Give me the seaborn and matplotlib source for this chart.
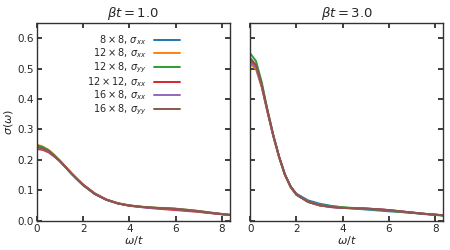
import matplotlib
matplotlib.use("Agg")
import matplotlib.pyplot as plt
import seaborn as sns
import pandas as pd

# ---------------- data ----------------
omega = [0, 0.25, 0.5, 0.75, 1.0, 1.25, 1.5, 1.75, 2.0, 2.5, 3.0, 3.5,
         4.0, 4.5, 5.0, 5.5, 6.0, 6.5, 7.0, 7.5, 8.0, 8.5]

series_labels = [r"$8\times8,\,\sigma_{xx}$", r"$12\times8,\,\sigma_{xx}$",
                 r"$12\times8,\,\sigma_{yy}$", r"$12\times12,\,\sigma_{xx}$",
                 r"$16\times8,\,\sigma_{xx}$", r"$16\times8,\,\sigma_{yy}$"]

panel_titles = [r"$\beta t = 1.0$", r"$\beta t = 3.0$"]

# beta t = 1.0
b1_8x8_xx = [0.246, 0.241, 0.231, 0.215, 0.196, 0.175, 0.154, 0.135, 0.117, 0.088, 0.069, 0.057,
             0.050, 0.046, 0.043, 0.041, 0.039, 0.036, 0.032, 0.027, 0.022, 0.018]
b1_12x8_xx = [0.250, 0.244, 0.233, 0.217, 0.198, 0.177, 0.156, 0.137, 0.119, 0.090, 0.070, 0.058,
              0.051, 0.046, 0.043, 0.042, 0.040, 0.036, 0.032, 0.027, 0.022, 0.018]
b1_12x8_yy = [0.248, 0.242, 0.232, 0.215, 0.196, 0.175, 0.154, 0.135, 0.117, 0.088, 0.069, 0.057,
              0.050, 0.046, 0.043, 0.041, 0.039, 0.035, 0.031, 0.026, 0.022, 0.018]
b1_12x12_xx = [0.236, 0.233, 0.225, 0.211, 0.195, 0.176, 0.156, 0.137, 0.119, 0.090, 0.070, 0.057,
               0.049, 0.045, 0.041, 0.038, 0.035, 0.032, 0.029, 0.025, 0.021, 0.018]
b1_16x8_xx = [0.240, 0.236, 0.227, 0.212, 0.195, 0.175, 0.155, 0.136, 0.118, 0.089, 0.069, 0.057,
              0.050, 0.045, 0.042, 0.040, 0.037, 0.034, 0.030, 0.026, 0.022, 0.018]
b1_16x8_yy = [0.243, 0.238, 0.229, 0.213, 0.196, 0.175, 0.155, 0.136, 0.117, 0.088, 0.069, 0.057,
              0.050, 0.046, 0.043, 0.041, 0.039, 0.035, 0.031, 0.026, 0.022, 0.018]

# beta t = 3.0
b3_8x8_xx = [0.530, 0.508, 0.443, 0.358, 0.278, 0.209, 0.152, 0.113, 0.089, 0.067, 0.056, 0.049,
             0.044, 0.040, 0.037, 0.034, 0.031, 0.029, 0.026, 0.023, 0.020, 0.017]
b3_12x8_xx = [0.515, 0.498, 0.438, 0.356, 0.278, 0.209, 0.151, 0.111, 0.086, 0.063, 0.052, 0.046,
              0.043, 0.041, 0.039, 0.037, 0.034, 0.030, 0.027, 0.023, 0.020, 0.017]
b3_12x8_yy = [0.550, 0.525, 0.455, 0.364, 0.281, 0.210, 0.151, 0.110, 0.085, 0.063, 0.052, 0.047,
              0.044, 0.042, 0.040, 0.037, 0.033, 0.029, 0.026, 0.022, 0.019, 0.016]
b3_12x12_xx = [0.525, 0.506, 0.443, 0.360, 0.280, 0.211, 0.153, 0.112, 0.086, 0.062, 0.050, 0.045,
               0.042, 0.041, 0.040, 0.038, 0.035, 0.031, 0.027, 0.023, 0.020, 0.017]
b3_16x8_xx = [0.522, 0.503, 0.442, 0.359, 0.280, 0.210, 0.152, 0.112, 0.086, 0.062, 0.051, 0.045,
              0.042, 0.041, 0.040, 0.038, 0.035, 0.031, 0.027, 0.023, 0.020, 0.017]
b3_16x8_yy = [0.535, 0.512, 0.447, 0.361, 0.280, 0.210, 0.152, 0.112, 0.086, 0.062, 0.051, 0.045,
              0.042, 0.041, 0.040, 0.038, 0.035, 0.031, 0.027, 0.023, 0.020, 0.017]

panels = [
    [b1_8x8_xx, b1_12x8_xx, b1_12x8_yy, b1_12x12_xx, b1_16x8_xx, b1_16x8_yy],
    [b3_8x8_xx, b3_12x8_xx, b3_12x8_yy, b3_12x12_xx, b3_16x8_xx, b3_16x8_yy],
]

# ---------------- style ----------------
sns.set_theme(style="ticks")
plt.rcParams.update({
    "font.family": ["DejaVu Sans"],
    "mathtext.fontset": "dejavusans",
    "xtick.direction": "in",
    "ytick.direction": "in",
    "xtick.top": True,
    "ytick.right": True,
    "xtick.labelsize": 7.5,
    "ytick.labelsize": 7.5,
    "axes.edgecolor": "#333333",
    "axes.linewidth": 1.0,
    "xtick.major.size": 3.5,
    "ytick.major.size": 3.5,
    "xtick.major.pad": 2,
    "ytick.major.pad": 2,
})

palette = sns.color_palette("tab10", 6)

fig = plt.figure(figsize=(4.5, 2.5), dpi=100)
ax1 = fig.add_axes([0.082, 0.117, 0.429, 0.791])
ax2 = fig.add_axes([0.556, 0.117, 0.429, 0.791], sharey=ax1)
axes = [ax1, ax2]

for ax, title, data in zip(axes, panel_titles, panels):
    frames = []
    for lab, ys in zip(series_labels, data):
        frames.append(pd.DataFrame({"omega": omega, "sigma": ys, "series": lab}))
    df = pd.concat(frames, ignore_index=True)
    sns.lineplot(data=df, x="omega", y="sigma", hue="series", hue_order=series_labels,
                 palette=palette, linewidth=1.4, ax=ax, legend=(ax is ax1), estimator=None)
    ax.set_xlim(0, 8.35)
    ax.set_ylim(0, 0.65)
    ax.set_xticks([0, 2, 4, 6, 8])
    ax.set_yticks([0.0, 0.1, 0.2, 0.3, 0.4, 0.5, 0.6])
    ax.set_title(title, fontsize=9.5, pad=4)
    ax.set_xlabel(r"$\omega/t$", fontsize=8, labelpad=0)
    ax.set_ylabel("")
    for s in ax.spines.values():
        s.set_visible(True)

ax1.set_ylabel(r"$\sigma(\omega)$", fontsize=8, labelpad=2)
ax2.tick_params(labelleft=False)

handles, labels = ax1.get_legend_handles_labels()
ax1.legend(handles, labels, loc="upper center", bbox_to_anchor=(0.5, 0.985),
           frameon=False, markerfirst=False, fontsize=7, handlelength=2.6,
           handleheight=0.5, labelspacing=0.0, borderaxespad=0.3, handletextpad=0.8)

fig.savefig("out.png", dpi=100)
